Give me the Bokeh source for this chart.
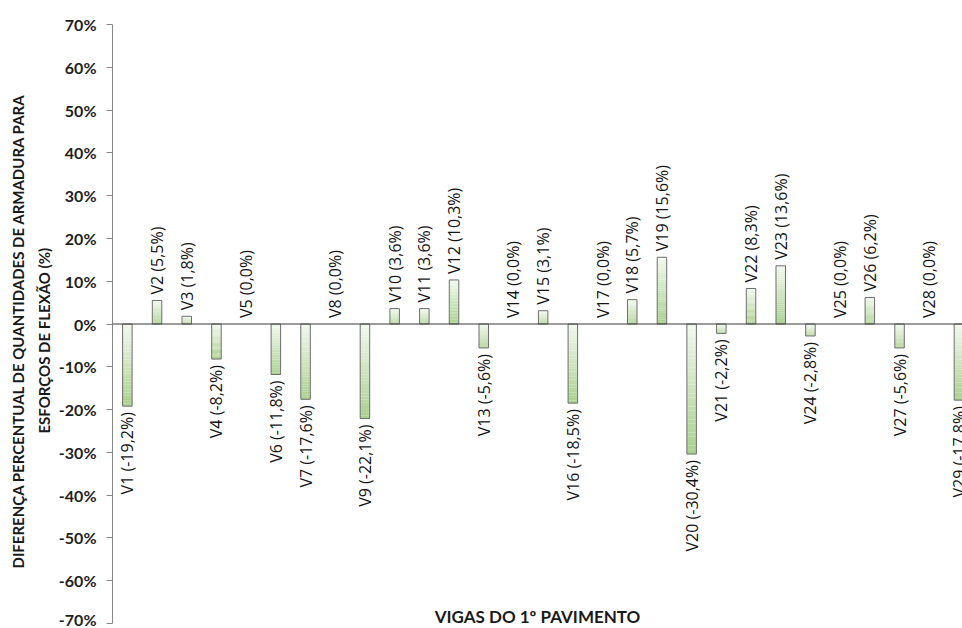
import numpy as np
from bokeh.plotting import figure
from bokeh.models import (FixedTicker, PrintfTickFormatter, Span, Label, Title,
                          ColumnDataSource, Range1d)
from bokeh.core.properties import value
from bokeh.embed import file_html
from bokeh.resources import INLINE

# --- data -------------------------------------------------------------
beams = ["V1", "V2", "V3", "V4", "V5", "V6", "V7", "V8", "V9", "V10",
         "V11", "V12", "V13", "V14", "V15", "V16", "V17", "V18", "V19", "V20",
         "V21", "V22", "V23", "V24", "V25", "V26", "V27", "V28", "V29"]
diff_pct = [-19.2, 5.5, 1.8, -8.2, 0.0, -11.8, -17.6, 0.0, -22.1, 3.6,
            3.6, 10.3, -5.6, 0.0, 3.1, -18.5, 0.0, 5.7, 15.6, -30.4,
            -2.2, 8.3, 13.6, -2.8, 0.0, 6.2, -5.6, 0.0, -17.8]
y_ticks = [-70, -60, -50, -40, -30, -20, -10, 0, 10, 20, 30, 40, 50, 60, 70]

y_title_1 = "DIFERENÇA PERCENTUAL DE QUANTIDADES DE ARMADURA PARA"
y_title_2 = "ESFORÇOS DE FLEXÃO (%)"
x_title = "VIGAS DO 1º PAVIMENTO"

# --- styling ----------------------------------------------------------
FONT = "Lato"
LABEL_FONT = "Open Sans"
BAR_W = 0.32
TOP_RGB = np.array([242, 248, 238])
BOT_RGB = np.array([168, 208, 141])
N_STRIPS = 30

vals = np.array(diff_pct)
xs = np.arange(len(beams)) + 0.5

p = figure(width=962, height=628, output_backend="svg", toolbar_location=None,
           x_range=Range1d(0, 28.62), y_range=Range1d(-70, 70),
           x_axis_location=None,
           min_border_left=112, min_border_right=0,
           min_border_top=24, min_border_bottom=5)
p.outline_line_color = None
p.grid.visible = False
p.background_fill_color = "white"
p.border_fill_color = "white"

# gradient fill: each bar split into horizontal strips, light at top, green at bottom
lefts, rights, tops, bottoms, colors = [], [], [], [], []
for x, v in zip(xs, vals):
    hi, lo = max(v, 0.0), min(v, 0.0)
    if hi == lo:
        continue
    edges = np.linspace(hi, lo, N_STRIPS + 1)
    for k in range(N_STRIPS):
        t = (k + 0.5) / N_STRIPS
        rgb = (TOP_RGB * (1 - t) + BOT_RGB * t).round().astype(int)
        lefts.append(x - BAR_W / 2)
        rights.append(x + BAR_W / 2)
        tops.append(edges[k])
        bottoms.append(edges[k + 1])
        colors.append("#%02x%02x%02x" % tuple(rgb))
p.quad(left=lefts, right=rights, top=tops, bottom=bottoms,
       fill_color=colors, line_color=None)

# zero line
p.add_layout(Span(location=0, dimension="width", line_color="#3a3a3a", line_width=1))

# bar outlines
nz = vals != 0
p.quad(left=xs[nz] - BAR_W / 2, right=xs[nz] + BAR_W / 2,
       top=np.maximum(vals[nz], 0), bottom=np.minimum(vals[nz], 0),
       fill_alpha=0, line_color="#6e6e6e", line_width=1)

# value labels, rotated
labels = ["%s (%s%%)" % (b, ("%.1f" % v).replace(".", ",")) for b, v in zip(beams, vals)]
pos = vals >= 0
gap = 1.4
src_pos = ColumnDataSource(dict(x=xs[pos], y=vals[pos] + gap,
                                t=[l for l, s in zip(labels, pos) if s]))
src_neg = ColumnDataSource(dict(x=xs[~pos], y=vals[~pos] - gap,
                                t=[l for l, s in zip(labels, pos) if not s]))
common = dict(text="t", angle=np.pi / 2, text_font=value(LABEL_FONT),
              text_font_size="16px", text_color="#141414", text_baseline="middle")
p.text(x="x", y="y", source=src_pos, text_align="left", **common)
p.text(x="x", y="y", source=src_neg, text_align="right", **common)

# y axis
ax = p.yaxis[0]
ax.ticker = FixedTicker(ticks=y_ticks)
ax.formatter = PrintfTickFormatter(format="%d%%")
ax.major_label_text_font = FONT
ax.major_label_text_font_style = "bold"
ax.major_label_text_font_size = "16px"
ax.major_label_text_color = "#1e1e1e"
ax.major_label_standoff = 10
ax.axis_line_color = "#888888"
ax.major_tick_line_color = "#888888"
ax.major_tick_out = 6
ax.major_tick_in = 0
ax.minor_tick_line_color = None

# y axis title in two lines (inner line first, it sits next to the axis);
# each line starts a fixed distance above the bottom of the frame
for line, lift, gap_px in ((y_title_2, 190, 6), (y_title_1, 55, 5)):
    p.add_layout(Title(text=line, align="left", offset=lift, standoff=gap_px,
                       text_font=FONT, text_font_style="bold",
                       text_font_size="15px", text_color="#1a1a1a"), "left")

# x axis title, inside the frame near its bottom edge
p.add_layout(Label(x=425, y=7, x_units="screen", y_units="screen", text=x_title,
                   text_align="center", text_baseline="middle",
                   text_font=FONT, text_font_style="bold",
                   text_font_size="17px", text_color="#1a1a1a"))

open("out.html", "w").write(file_html(p, INLINE))
